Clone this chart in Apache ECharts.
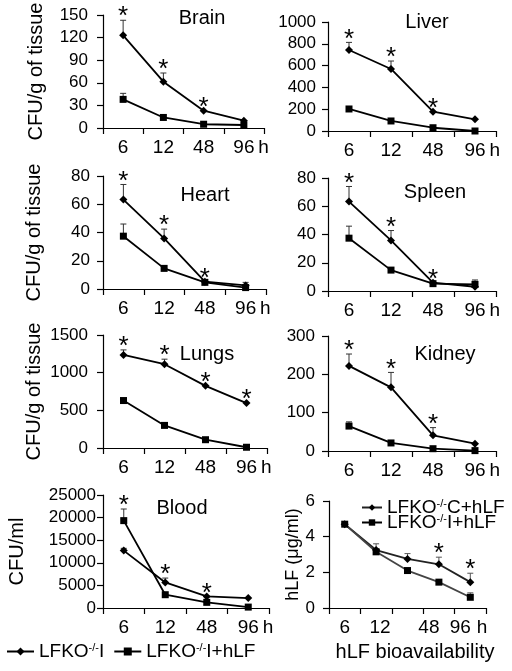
<!DOCTYPE html>
<html><head><meta charset="utf-8">
<script src="https://cdn.jsdelivr.net/npm/echarts@6/dist/echarts.min.js"></script>
<style>html,body{margin:0;padding:0;background:#fff}#c{width:512px;height:671px}</style>
</head><body><div id="c"></div>
<script>
// ---------- DATA ----------
const hours = ['6', '12', '48', '96'];
const hoursHLF = ['6', '12', '', '48', '96'];

const nameI = 'LFKO-/-I';
const nameIhLF = 'LFKO-/-I+hLF';
const nameChLF = 'LFKO-/-C+hLF';

// Brain
const brainI = [123, 61.5, 23, 9.7];
const brainIhLF = [38, 14, 5, 4];
const brainIErr = [143, 73, null, null];
const brainIhLFErr = [46, null, null, null];
const brainStars = [1, 1, 1, 0];
// Liver
const liverI = [743, 569, 177, 107];
const liverIhLF = [202, 92, 30, 0];
const liverIErr = [813, 642, null, null];
const liverIhLFErr = [null, null, null, null];
const liverStars = [1, 1, 1, 0];
// Heart
const heartI = [63.3, 35.8, 5.2, 2.5];
const heartIhLF = [37.4, 14.6, 4.7, 1.0];
const heartIErr = [74, 42.4, null, 4.7];
const heartIhLFErr = [46, null, null, null];
const heartStars = [1, 1, 1, 0];
// Spleen
const spleenI = [63.3, 35.8, 5.9, 3];
const spleenIhLF = [37.4, 14.8, 5.2, 4.7];
const spleenIErr = [74, 42.8, null, null];
const spleenIhLFErr = [45.9, null, null, 7.8];
const spleenStars = [1, 1, 1, 0];
// Lungs
const lungsI = [1236, 1112, 825, 596];
const lungsIhLF = [630, 300, 110, 10];
const lungsIErr = [1302, 1179, null, null];
const lungsIhLFErr = [null, null, null, null];
const lungsStars = [1, 1, 1, 1];
// Kidney
const kidneyI = [222, 166, 41, 19];
const kidneyIhLF = [65, 21, 6, 1];
const kidneyIErr = [253, 205, 61, null];
const kidneyIhLFErr = [76, null, null, null];
const kidneyStars = [1, 1, 1, 0];
// Blood
const bloodI = [12700, 5650, 2560, 2200];
const bloodIhLF = [19330, 2940, 1250, 200];
const bloodIErr = [13200, 6620, null, null];
const bloodIhLFErr = [21900, null, null, null];
const bloodStars = [1, 1, 1, 0];
// hLF bioavailability
const hlfC = [4.7, 3.25, 2.75, 2.45, 1.45];
const hlfI = [4.7, 3.15, 2.1, 1.45, 0.6];
const hlfCErr = [null, 3.6, 3.05, 2.85, 1.95];
const hlfIErr = [null, null, null, null, 0.85];
const hlfStars = [0, 0, 0, 1, 1];

// ---------- PANELS ----------
const FONT = 'Liberation Sans, Arial, sans-serif';
const panels = [
  {title:'Brain', cats:hours, a:brainI, b:brainIhLF, ae:brainIErr, be:brainIhLFErr, st:brainStars, max:150, step:30, yName:'CFU/g of tissue', an:nameI, bn:nameIhLF},
  {title:'Liver', cats:hours, a:liverI, b:liverIhLF, ae:liverIErr, be:liverIhLFErr, st:liverStars, max:1000, step:200, yName:'', an:nameI, bn:nameIhLF},
  {title:'Heart', cats:hours, a:heartI, b:heartIhLF, ae:heartIErr, be:heartIhLFErr, st:heartStars, max:80, step:20, yName:'CFU/g of tissue', an:nameI, bn:nameIhLF},
  {title:'Spleen', cats:hours, a:spleenI, b:spleenIhLF, ae:spleenIErr, be:spleenIhLFErr, st:spleenStars, max:80, step:20, yName:'', an:nameI, bn:nameIhLF},
  {title:'Lungs', cats:hours, a:lungsI, b:lungsIhLF, ae:lungsIErr, be:lungsIhLFErr, st:lungsStars, max:1500, step:500, yName:'CFU/g of tissue', an:nameI, bn:nameIhLF},
  {title:'Kidney', cats:hours, a:kidneyI, b:kidneyIhLF, ae:kidneyIErr, be:kidneyIhLFErr, st:kidneyStars, max:300, step:100, yName:'', an:nameI, bn:nameIhLF},
  {title:'Blood', cats:hours, a:bloodI, b:bloodIhLF, ae:bloodIErr, be:bloodIhLFErr, st:bloodStars, max:25000, step:5000, yName:'CFU/ml', an:nameI, bn:nameIhLF},
  {title:'', cats:hoursHLF, a:hlfC, b:hlfI, ae:hlfCErr, be:hlfIErr, st:hlfStars, max:6, step:2, yName:'hLF (\u03bcg/ml)', an:nameChLF, bn:nameIhLF}
];

// layout (pixels)
const layout = [
  {grid:{left:103, top:15, width:161, height:113}, title:[202, 18], labelMargin:15, nameGap:57},
  {grid:{left:328, top:22, width:168, height:109}, title:[427, 22], labelMargin:12, nameGap:50},
  {grid:{left:103, top:176, width:163, height:113}, title:[205, 195], labelMargin:13, nameGap:59},
  {grid:{left:328, top:178, width:168, height:113}, title:[435, 192], labelMargin:12, nameGap:50},
  {grid:{left:103, top:335, width:164, height:113}, title:[207, 354], labelMargin:15, nameGap:59},
  {grid:{left:103 + 0, top:495, width:166, height:113}, title:[182, 508], labelMargin:7, nameGap:76},
  {grid:{left:329, top:501, width:157, height:107}, title:[0, 0], labelMargin:14, nameGap:17}
];
layout.splice(5, 0, {grid:{left:328, top:336, width:168, height:115}, title:[445, 354], labelMargin:13, nameGap:50});

function renderErr(params, api) {
  const x = api.value(0), v = api.value(1), e = api.value(2);
  const p0 = api.coord([x, v]), p1 = api.coord([x, e]);
  const col = params.seriesName === 'grayErr' ? '#555' : '#333';
  return {type:'group', children:[
    {type:'line', shape:{x1:p0[0], y1:p0[1], x2:p1[0], y2:p1[1]}, style:{stroke:col, lineWidth:1}},
    {type:'line', shape:{x1:p1[0]-3, y1:p1[1], x2:p1[0]+3, y2:p1[1]}, style:{stroke:col, lineWidth:1}}
  ]};
}
function renderStar(params, api) {
  const p = api.coord([api.value(0), api.value(1)]);
  return {type:'text', x:p[0], y:p[1] - 3, style:{text:'*', fontSize:26, fontFamily:FONT, fill:'#000', align:'center', verticalAlign:'middle'}};
}

const grids = [], xAxes = [], yAxes = [], series = [], graphics = [];
panels.forEach((p, i) => {
  const L = layout[i];
  const isHLF = i === 7;
  grids.push(L.grid);
  xAxes.push({
    type:'category', gridIndex:i, data:p.cats, boundaryGap:true,
    axisLine:{lineStyle:{color:'#000', width:1.2}},
    axisTick:{show:true, length:6, alignWithLabel:false, lineStyle:{color:'#000', width:1.2}},
    axisLabel:{color:'#000', fontSize:19, fontFamily:FONT, margin:10, interval:0,
      formatter: isHLF ? (v => v === '12' ? '{r|12}' : (v === '48' || v === '96') ? '{l|' + v + '}' : v) : undefined,
      rich: isHLF ? {l:{fontSize:19, fontFamily:FONT, color:'#000', padding:[0,20,0,0]}, r:{fontSize:19, fontFamily:FONT, color:'#000', padding:[0,0,0,8]}} : undefined},
    name:'h', nameLocation:'end', nameGap:-4,
    nameTextStyle:{color:'#000', fontSize:19, fontFamily:FONT, align:'center', verticalAlign:'top', padding:[10,0,0,0]}
  });
  yAxes.push({
    type:'value', gridIndex:i, min:0, max:p.max, interval:p.step,
    splitLine:{show:false},
    axisLine:{show:true, lineStyle:{color:'#000', width:1.2}},
    axisTick:{show:true, length:6, lineStyle:{color:'#000', width:1.2}},
    axisLabel:{color:'#000', fontSize:17, fontFamily:FONT, margin:L.labelMargin, formatter:v => String(v)},
    name:p.yName, nameLocation:'middle', nameGap:L.nameGap,
    nameTextStyle:{color:'#000', fontSize:isHLF ? 18 : 20, fontFamily:FONT}
  });
  const lineCol = isHLF ? '#222' : '#000';
  series.push({type:'line', name:p.an, xAxisIndex:i, yAxisIndex:i, data:p.a, symbol:'diamond', symbolSize:8,
    showSymbol:true, lineStyle:{color:lineCol, width:1.8}, itemStyle:{color:'#000'}, z:3, animation:false});
  series.push({type:'line', name:p.bn, xAxisIndex:i, yAxisIndex:i, data:p.b, symbol:'rect', symbolSize:7,
    showSymbol:true, lineStyle:{color:isHLF ? '#444' : '#000', width:1.8}, itemStyle:{color:'#000'}, z:3, animation:false});
  const errData = [];
  p.a.forEach((v, k) => { if (p.ae[k] != null) errData.push([k, v, p.ae[k]]); });
  p.b.forEach((v, k) => { if (p.be[k] != null) errData.push([k, v, p.be[k]]); });
  series.push({type:'custom', name: isHLF ? 'grayErr' : 'err', xAxisIndex:i, yAxisIndex:i, data:errData,
    renderItem:renderErr, encode:{x:0, y:[1, 2]}, silent:true, z:2, animation:false});
  const starData = [];
  p.st.forEach((s, k) => {
    if (s) {
      const top = Math.max(p.a[k], p.b[k], p.ae[k] ?? -Infinity, p.be[k] ?? -Infinity);
      starData.push([k, top]);
    }
  });
  series.push({type:'custom', name:'stars', xAxisIndex:i, yAxisIndex:i, data:starData,
    renderItem:renderStar, encode:{x:0, y:1}, silent:true, z:4, animation:false});
  if (p.title) {
    graphics.push({type:'text', x:L.title[0], y:L.title[1],
      style:{text:p.title, fontSize:20, fontFamily:FONT, fill:'#000', align:'center', verticalAlign:'middle'}});
  }
});
graphics.push({type:'text', x:415, y:652,
  style:{text:'hLF bioavailability', fontSize:20, fontFamily:FONT, fill:'#000', align:'center', verticalAlign:'middle'}});

function legendFmt(name) {
  const m = name.match(/^LFKO-\/-(.*)$/);
  return '{n|LFKO}{s|-/-}{n|' + m[1] + '}';
}
const legendText = {color:'#000', fontSize:19, fontFamily:FONT,
  rich:{n:{fontSize:19, fontFamily:FONT, color:'#000'}, s:{fontSize:11, fontFamily:FONT, color:'#000', verticalAlign:'top'}}};

const option = {
  backgroundColor:'#fff',
  animation:false,
  grid:grids, xAxis:xAxes, yAxis:yAxes, series:series,
  graphic:graphics,
  legend:[
    {data:[nameI, nameIhLF], left:6, top:642, itemWidth:27, itemHeight:10, itemGap:9, selectedMode:false,
      formatter:legendFmt, textStyle:legendText, padding:0},
    {data:[nameChLF], left:361, top:498, itemWidth:20, itemHeight:8, selectedMode:false,
      formatter:legendFmt, textStyle:legendText, padding:0},
    {data:[nameIhLF], left:361, top:513, itemWidth:20, itemHeight:8, selectedMode:false,
      formatter:legendFmt, textStyle:legendText, padding:0}
  ]
};
const chart = echarts.init(document.getElementById('c'), null, {renderer:'canvas'});
chart.setOption(option);
</script></body></html>
